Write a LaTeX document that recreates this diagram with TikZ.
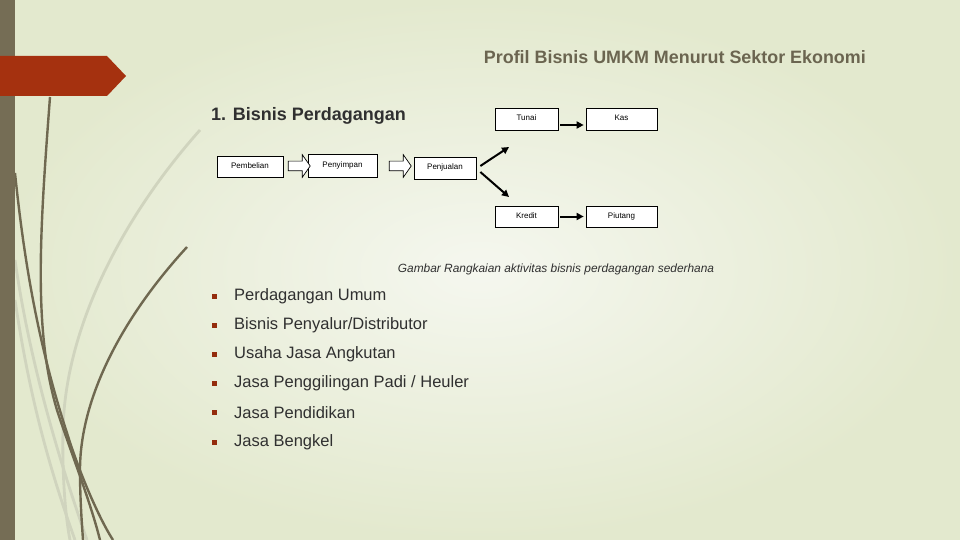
\documentclass[tikz,border=0pt]{standalone}
\usepackage{fontspec}
\setmainfont{Liberation Sans}
\usepackage{xcolor}
\usepackage{tikz}
\usetikzlibrary{arrows.meta, shapes.arrows}

\definecolor{zaitun}{HTML}{756D55}
\definecolor{batang}{HTML}{6F6850}
\definecolor{pucat}{HTML}{D0D4BE}
\definecolor{bata}{HTML}{A5310F}
\definecolor{judul}{HTML}{6B6550}
\definecolor{teks}{HTML}{303030}
\definecolor{latar}{HTML}{E3E9CE}
\definecolor{latarterang}{HTML}{F5F7EF}

\begin{document}
\begin{tikzpicture}[
    x=1pt, y=-1pt,
    kotak/.style={draw=black, line width=0.7pt, fill=white, inner sep=0pt, text height=5.2pt, text depth=1.6pt,
        font=\fontsize{8}{9}\selectfont},
    panah kosong/.style={single arrow, draw=black, line width=0.7pt, fill=white, inner xsep=0pt, inner ysep=4.5pt,
        minimum height=22pt, minimum width=21pt, single arrow head extend=6.5pt, single arrow tip angle=110},
    panah/.style={line width=2pt, -{Triangle[length=7pt, width=7pt]}},
    butir/.style={fill=bata!90!black, minimum size=5pt, inner sep=0pt},
    isi/.style={anchor=west, text=teks, font=\fontsize{16.5}{18}\selectfont, inner sep=0pt},
    rumput/.style={batang, line width=2.4pt},
    rumput pucat/.style={pucat, line width=2.8pt}
]
    \useasboundingbox (0,0) rectangle (960,540);

    % Latar belakang
    \fill[latar] (0,0) rectangle (960,540);
    \shade[inner color=latarterang, outer color=latar] (0,0) rectangle (960,540);

    % Rumput di kiri
    \draw[rumput pucat] (200,130) .. controls (120,220) and (65,330) .. (63,430) .. controls (62,480) and (66,520) .. (70,540);
    \draw[rumput pucat] (15,260) .. controls (25,330) and (45,420) .. (87,540);
    \draw[rumput pucat] (15,300) .. controls (30,400) and (50,470) .. (75,540);
    \draw[rumput] (50,97) .. controls (40,230) and (33,330) .. (57,410) .. controls (70,450) and (90,500) .. (100,540);
    \draw[rumput] (15,173) .. controls (25,270) and (40,350) .. (67,433) .. controls (80,475) and (100,520) .. (113,540);
    \draw[rumput] (187,247) .. controls (120,320) and (80,400) .. (80,470) .. controls (80,500) and (82,525) .. (83,540);

    % Batang kiri dan pita merah
    \fill[zaitun] (0,0) rectangle (15,540);
    \fill[bata] (0,56) -- (107,56) -- (126,76) -- (107,96) -- (0,96) -- cycle;

    % Judul
    \node[anchor=base east, inner sep=0pt, text=judul, font=\fontsize{17.9}{20}\selectfont\bfseries] (judul) at (866,64) {Profil Bisnis UMKM Menurut Sektor Ekonomi};
    \node[anchor=base west, inner sep=0pt, text=teks, font=\fontsize{18}{22}\selectfont\bfseries] (sub) at (211,121) {1. Bisnis Perdagangan};

    % Alur kegiatan
    \node[kotak, minimum width=66pt, minimum height=21pt] (beli) at (250,166.5) {Pembelian};
    \node[kotak, minimum width=69pt, minimum height=23pt] (simpan) at (342.5,165.5) {Penyimpan};
    \node[kotak, minimum width=62pt, minimum height=22pt] (jual) at (445,168) {Penjualan};
    \node[panah kosong] (p1) at (297.5,166) {};
    \node[panah kosong] (p2) at (398.5,166) {};

    \node[kotak, minimum width=63pt, minimum height=22pt] (tunai) at (526.5,119) {Tunai};
    \node[kotak, minimum width=71pt, minimum height=22pt] (kas) at (621.5,119) {Kas};
    \node[kotak, minimum width=63pt, minimum height=21pt] (kredit) at (526.5,216.5) {Kredit};
    \node[kotak, minimum width=71pt, minimum height=21pt] (piutang) at (621.5,216.5) {Piutang};

    \coordinate (ujungatas) at (509,147);
    \coordinate (ujungbawah) at (509,197);
    \draw[panah] ([shift={(4pt,2pt)}]jual.east) -- (ujungatas);
    \draw[panah] ([shift={(4pt,-4pt)}]jual.east) -- (ujungbawah);
    \draw[panah, shorten <=2pt, shorten >=2pt] ([yshift=-6pt]tunai.east) -- ([yshift=-6pt]kas.west);
    \draw[panah, shorten <=2pt, shorten >=2pt] (kredit.east) -- (piutang.west);

    % Keterangan gambar
    \node[inner sep=0pt, text=teks, font=\fontsize{11.9}{13}\selectfont\itshape] (ket) at (556,269) {Gambar Rangkaian aktivitas bisnis perdagangan sederhana};

    % Daftar jenis usaha
    \foreach \t [count=\i] in {Perdagangan Umum, Bisnis Penyalur/Distributor, Usaha Jasa Angkutan,
        Jasa Penggilingan Padi / Heuler, Jasa Pendidikan, Jasa Bengkel} {
        \node[butir] (b\i) at (214,{296+(\i-1)*29.2}) {};
        \node[isi] (t\i) at (234,{296+(\i-1)*29.2}) {\t};
    }
\end{tikzpicture}
\end{document}
